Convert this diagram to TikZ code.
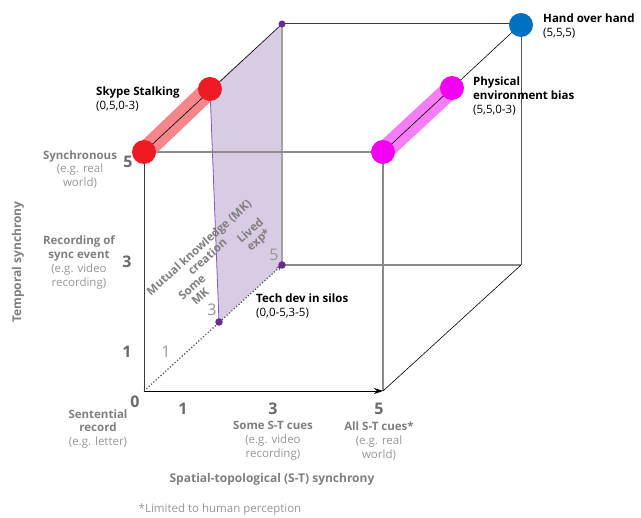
\documentclass[tikz,border=0pt]{standalone}
\usepackage{fontspec}
\setmainfont{Open Sans}
\usetikzlibrary{arrows.meta}

\definecolor{axisgray}{HTML}{7F7F7F}
\definecolor{notegray}{HTML}{969696}
\definecolor{numgray}{HTML}{6A6A6A}
\definecolor{edgegray}{HTML}{8A8A8A}
\definecolor{edgedark}{HTML}{3A3A3A}
\definecolor{planefill}{HTML}{D8CCE4}
\definecolor{planeedge}{HTML}{8157C0}
\definecolor{dotpurple}{HTML}{662D91}
\definecolor{skypered}{HTML}{ED1C24}
\definecolor{skypeband}{HTML}{F4868C}
\definecolor{physmag}{HTML}{F200F2}
\definecolor{physband}{HTML}{F77CF7}
\definecolor{handblue}{HTML}{0070C0}

\begin{document}
\begin{tikzpicture}[x=1pt,y=-1pt,
  font=\fontsize{11.5}{13.8}\selectfont,
  txt/.style={inner sep=0pt, align=center},
  leftlab/.style={inner sep=0pt, align=left, anchor=west},
  axnum/.style={inner sep=0pt, text=numgray, font=\fontsize{16}{16}\selectfont\bfseries},
  thinnum/.style={inner sep=0pt, text=notegray, font=\fontsize{16}{16}\selectfont},
  axtitle/.style={inner sep=0pt, text=axisgray, font=\fontsize{12}{14}\selectfont\bfseries},
  mklab/.style={inner sep=0pt, align=center, text=axisgray, rotate=42,
    font=\fontsize{11.5}{12.5}\selectfont\bfseries},
  bigdot/.style={circle, inner sep=0pt, minimum size=24pt},
  smalldot/.style={circle, inner sep=0pt, minimum size=7.5pt, fill=dotpurple},
]
\useasboundingbox (0,0) rectangle (641,518);

% cube corners
\coordinate (O)   at (144,391);
\coordinate (FRB) at (383,391);
\coordinate (FTL) at (144,152);
\coordinate (FTR) at (383,152);
\coordinate (BTL) at (282,24);
\coordinate (BTR) at (521,24);
\coordinate (BBR) at (521,265);
\coordinate (BBL) at (282,265);
% points on the depth edges
\coordinate (SK1) at (210,89);
\coordinate (PH1) at (452,88);
\coordinate (TD3) at (219,322);

% mutual knowledge plane
\fill[planefill] (SK1) -- (BTL) -- (BBL) -- (TD3) -- cycle;
\draw[planeedge, line width=0.8pt] (SK1) -- (TD3);
\draw[edgegray!80, line width=1.6pt] (BTL) -- (BBL);

% back face
\draw[edgedark, line width=1pt] (BTL) -- (BTR);
\draw[edgedark!85, line width=1pt] (BTR) -- (BBR);
\draw[edgegray, line width=1.2pt] (BBL) -- (BBR);

% front face
\draw[edgegray, line width=1.2pt] (FTL) -- (FTR);
\draw[edgegray, line width=1.2pt] (FTR) -- (FRB);
\draw[edgedark, line width=1pt] (FTL) -- (O);
\draw[black, line width=0.8pt, -{Stealth[length=9pt,width=6pt]}] (O) -- (FRB);

% depth edges
\draw[black!70, line width=1.2pt, dotted, -{Stealth[length=6pt,width=4.5pt]}] (O) -- (BBL);
\draw[black, line width=0.6pt] (FRB) -- (BBR);

% bands and markers
\draw[skypeband, line width=19pt] (FTL) -- (SK1);
\draw[physband, line width=19pt] (FTR) -- (PH1);
\draw[black, line width=0.6pt] (FTL) -- (BTL);
\draw[black, line width=0.6pt] (FTR) -- (BTR);

\node[bigdot, fill=skypered] (sk0) at (FTL) {};
\node[bigdot, fill=skypered] (sk1) at (SK1) {};
\node[bigdot, fill=physmag] (ph0) at (FTR) {};
\node[bigdot, fill=physmag] (ph1) at (PH1) {};
\node[bigdot, fill=handblue] (hand) at (521,25) {};
\node[smalldot] (td3) at (TD3) {};
\node[smalldot] (td5) at (BBL) {};
\node[smalldot, minimum size=7pt] (top) at (BTL) {};

% point labels
\node[leftlab] (skl) at (96,99) {\textbf{Skype Stalking}\\(0,5,0-3)};
\node[leftlab] (tdl) at (256,306) {\textbf{Tech dev in silos}\\(0,0-5,3-5)};
\node[leftlab] (hal) at (543,26) {\textbf{Hand over hand}\\(5,5,5)};
\node[leftlab] (phl) at (473,96) {\textbf{Physical}\\\textbf{environment bias}\\(5,5,0-3)};

% temporal axis
\node[txt] (syn) at (80,169.5) {\textcolor{axisgray}{\bfseries Synchronous}\\\textcolor{notegray}{(e.g. real}\\\textcolor{notegray}{world)}};
\node[txt] (rec) at (79,262.5) {\textcolor{axisgray}{\bfseries Recording of}\\\textcolor{axisgray}{\bfseries sync event}\\\textcolor{notegray}{(e.g. video}\\\textcolor{notegray}{recording)}};
\node[txt] (sen) at (98,429) {\textcolor{axisgray}{\bfseries Sentential}\\\textcolor{axisgray}{\bfseries record}\\\textcolor{notegray}{(e.g. letter)}};
\node[axnum] (t5) at (128,162) {5};
\node[axnum] (t3) at (127,262) {3};
\node[axnum] (t1) at (127,352) {1};
\node[axnum] (t0) at (135,402) {0};
\node[axtitle, rotate=90] (tax) at (18,262) {Temporal synchrony};

% spatial-topological axis
\node[axnum] (s1) at (183,409) {1};
\node[axnum] (s3) at (273,409) {3};
\node[axnum] (s5) at (379,409) {5};
\node[txt] (some) at (273,441) {\textcolor{axisgray}{\bfseries Some S-T cues}\\\textcolor{notegray}{(e.g. video}\\\textcolor{notegray}{recording)}};
\node[txt] (all) at (379,441) {\textcolor{axisgray}{\bfseries All S-T cues*}\\\textcolor{notegray}{(e.g. real}\\\textcolor{notegray}{world)}};
\node[axtitle] (sax) at (272,479) {Spatial-topological (S-T) synchrony};

% mutual knowledge axis
\node[thinnum] (m1) at (166,352) {1};
\node[thinnum] (m3) at (212,310) {3};
\node[thinnum] (m5) at (274,255) {5};
\node[mklab] (mk) at (203,252) {Mutual knowledge (MK)\\creation};
\node[mklab] (lived) at (255,236) {Lived\\exp*};
\node[mklab] (smk) at (196,292) {Some\\MK};

% footnote
\node[inner sep=0pt, text=notegray] (foot) at (220,510) {*Limited to human perception};
\end{tikzpicture}
\end{document}
